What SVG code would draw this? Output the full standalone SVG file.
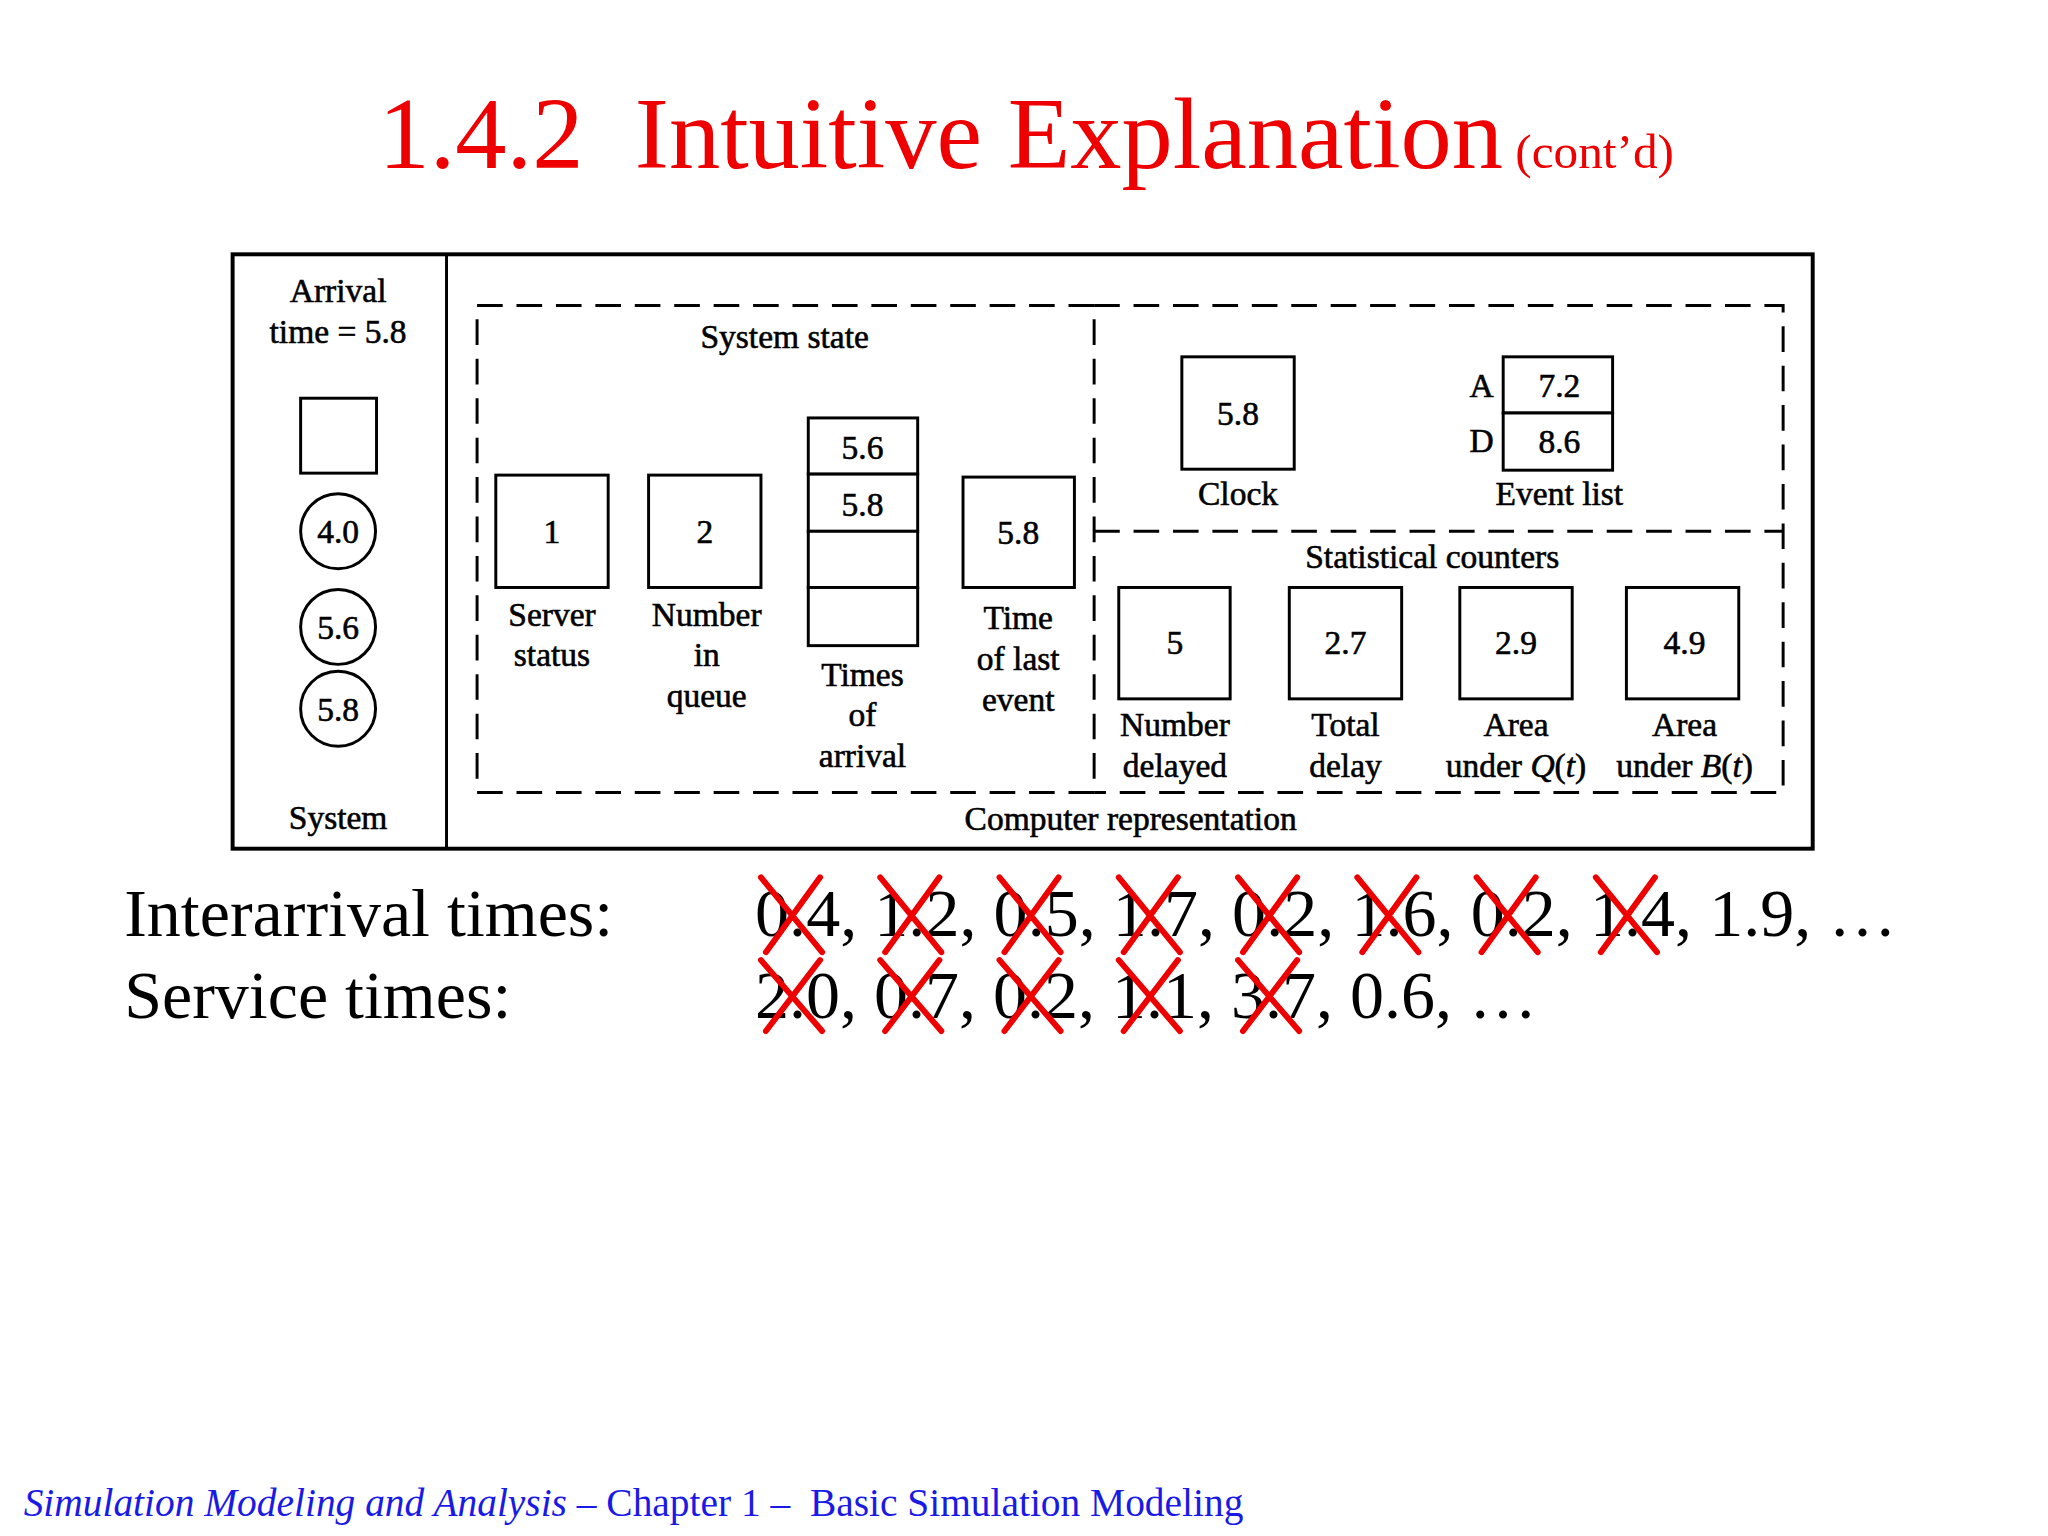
<svg xmlns="http://www.w3.org/2000/svg" width="2048" height="1536" viewBox="0 0 2048 1536">
<style>
.t{font-family:"Liberation Serif",serif;font-size:34px;fill:#000;text-anchor:middle;stroke:#000;stroke-width:0.6}
.b{fill:#fff;stroke:#000;stroke-width:3}
.d{fill:none;stroke:#000;stroke-width:3;stroke-dasharray:26 14}
.big{font-family:"Liberation Serif",serif;font-size:69px;fill:#000}
.x{stroke:#e00;stroke-width:6;stroke-linecap:round}
text{white-space:pre}
</style>
<rect width="2048" height="1536" fill="#fff"/>
<g transform="scale(0.9857)">
<text x="384" y="170" font-family="Liberation Serif,serif" font-size="104" fill="#e00">1.4.2  Intuitive Explanation<tspan font-size="50"> (cont’d)</tspan></text>
<g id="frame">
<rect x="236" y="258" width="1603" height="603" fill="none" stroke="#000" stroke-width="4"/>
<line x1="453" y1="258" x2="453" y2="861" stroke="#000" stroke-width="3"/>
<rect class="d" x="484" y="310" width="626" height="494"/>
<path class="d" d="M1110 310 H1809 V804 H1110 M1110 539 H1809"/>
</g>
<g id="system">
<text class="t" x="343" y="306">Arrival</text>
<text class="t" x="343" y="348">time = 5.8</text>
<rect class="b" x="305" y="404" width="77" height="76"/>
<circle class="b" cx="343" cy="539" r="38"/><text class="t" x="343" y="551">4.0</text>
<circle class="b" cx="343" cy="636" r="38"/><text class="t" x="343" y="648">5.6</text>
<circle class="b" cx="343" cy="719" r="38"/><text class="t" x="343" y="731">5.8</text>
<text class="t" x="343" y="841">System</text>
</g>
<g id="state">
<text class="t" x="796" y="353">System state</text>
<rect class="b" x="503" y="482" width="114" height="114"/><text class="t" x="560" y="551">1</text>
<text class="t" x="560" y="635">Server</text><text class="t" x="560" y="676">status</text>
<rect class="b" x="658" y="482" width="114" height="114"/><text class="t" x="715" y="551">2</text>
<text class="t" x="717" y="635">Number</text><text class="t" x="717" y="676">in</text><text class="t" x="717" y="717">queue</text>
<rect class="b" x="820" y="424" width="111" height="57"/><text class="t" x="875" y="466">5.6</text>
<rect class="b" x="820" y="481" width="111" height="58"/><text class="t" x="875" y="523">5.8</text>
<rect class="b" x="820" y="539" width="111" height="57"/>
<rect class="b" x="820" y="596" width="111" height="59"/>
<text class="t" x="875" y="696">Times</text><text class="t" x="875" y="737">of</text><text class="t" x="875" y="778">arrival</text>
<rect class="b" x="977" y="484" width="113" height="112"/><text class="t" x="1033" y="552">5.8</text>
<text class="t" x="1033" y="638">Time</text><text class="t" x="1033" y="680">of last</text><text class="t" x="1033" y="721">event</text>
</g>
<g id="clock">
<rect class="b" x="1199" y="362" width="114" height="114"/><text class="t" x="1256" y="431">5.8</text>
<text class="t" x="1256" y="512">Clock</text>
</g>
<g id="eventlist">
<rect class="b" x="1525" y="362" width="111" height="57"/><text class="t" x="1582" y="403">7.2</text>
<rect class="b" x="1525" y="419" width="111" height="58"/><text class="t" x="1582" y="460">8.6</text>
<text class="t" x="1503" y="403">A</text><text class="t" x="1503" y="459">D</text>
<text class="t" x="1582" y="512">Event list</text>
</g>
<g id="counters">
<text class="t" x="1453" y="576">Statistical counters</text>
<rect class="b" x="1135" y="596" width="113" height="113"/><text class="t" x="1192" y="664">5</text>
<text class="t" x="1192" y="747">Number</text><text class="t" x="1192" y="788">delayed</text>
<rect class="b" x="1308" y="596" width="114" height="113"/><text class="t" x="1365" y="664">2.7</text>
<text class="t" x="1365" y="747">Total</text><text class="t" x="1365" y="788">delay</text>
<rect class="b" x="1481" y="596" width="114" height="113"/><text class="t" x="1538" y="664">2.9</text>
<text class="t" x="1538" y="747">Area</text><text class="t" x="1538" y="788">under <tspan font-style="italic">Q</tspan>(<tspan font-style="italic">t</tspan>)</text>
<rect class="b" x="1650" y="596" width="114" height="113"/><text class="t" x="1709" y="664">4.9</text>
<text class="t" x="1709" y="747">Area</text><text class="t" x="1709" y="788">under <tspan font-style="italic">B</tspan>(<tspan font-style="italic">t</tspan>)</text>
<text class="t" x="1147" y="842">Computer representation</text>
</g>
<g id="times">
<text class="big" x="126" y="950">Interarrival times:</text>
<text class="big" x="126" y="1033">Service times:</text>
<text class="big" x="766" y="950" textLength="1158">0.4, 1.2, 0.5, 1.7, 0.2, 1.6, 0.2, 1.4, 1.9, …</text>
<text class="big" x="766" y="1033">2.0, 0.7, 0.2, 1.1, 3.7, 0.6, …</text>
</g>
<g id="crosses">
<path class="x" d="M772 890 L834 966 M832 890 L777 966 M893 890 L955 966 M953 890 L898 966 M1014 890 L1076 966 M1074 890 L1019 966 M1135 890 L1197 966 M1195 890 L1140 966 M1256 890 L1318 966 M1316 890 L1261 966 M1377 890 L1439 966 M1437 890 L1382 966 M1498 890 L1560 966 M1558 890 L1503 966 M1619 890 L1681 966 M1679 890 L1624 966"/>
<path class="x" d="M772 974 L834 1046 M832 974 L777 1046 M893 974 L955 1046 M953 974 L898 1046 M1014 974 L1076 1046 M1074 974 L1019 1046 M1135 974 L1197 1046 M1195 974 L1140 1046 M1256 974 L1318 1046 M1316 974 L1261 1046"/>
</g>
<text x="24" y="1538" font-family="Liberation Serif,serif" font-size="40" fill="#1a1ae6"><tspan font-style="italic">Simulation Modeling and Analysis</tspan> – Chapter 1 –  Basic Simulation Modeling</text>
</g>
</svg>
